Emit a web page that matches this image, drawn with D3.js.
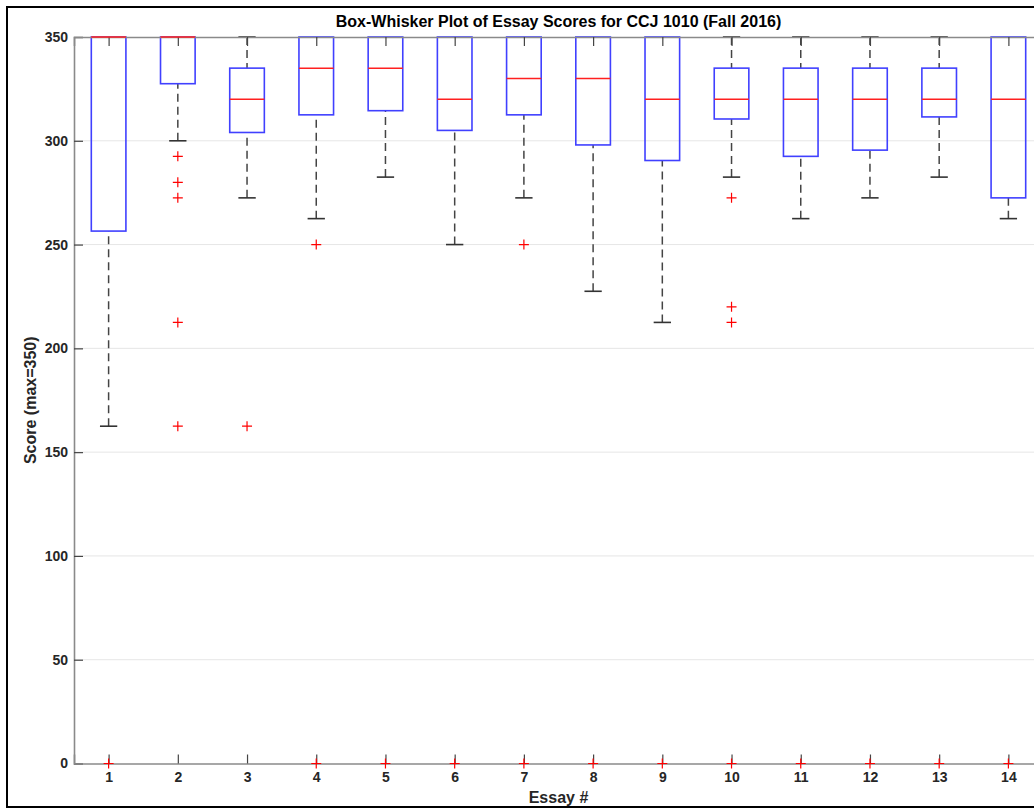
<!DOCTYPE html>
<html>
<head>
<meta charset="utf-8">
<script src="https://cdn.jsdelivr.net/npm/d3@7"></script>
<style>
  body { margin: 0; background: #fff; }
  svg text { font-family: "Liberation Sans", Arial, Helvetica, sans-serif; font-weight: bold; }
</style>
</head>
<body>
<div id="chart"></div>
<script>
// essay numbers and the box statistics
const essays = [1, 2, 3, 4, 5, 6, 7, 8, 9, 10, 11, 12, 13, 14];
const upperWhisker = [350, 350, 350, 350, 350, 350, 350, 350, 350, 350, 350, 350, 350, 350];
const q3 = [350, 350, 335, 350, 350, 350, 350, 350, 350, 335, 335, 335, 335, 350];
const medians = [350, 350, 320, 335, 335, 320, 330, 330, 320, 320, 320, 320, 320, 320];
const q1 = [256.5, 327.5, 304, 312.5, 314.5, 305, 312.5, 298, 290.5, 310.5, 292.5, 295.5, 311.5, 272.5];
const lowerWhisker = [162.5, 300, 272.5, 262.5, 282.5, 250, 272.5, 227.5, 212.5, 282.5, 262.5, 272.5, 282.5, 262.5];
const outliers = [
  [0],
  [292.5, 280, 272.5, 212.5, 162.5],
  [162.5],
  [250, 0],
  [0],
  [0],
  [250, 0],
  [0],
  [0],
  [272.5, 220, 212.5, 0],
  [0],
  [0],
  [0],
  [0]
];
const yTicks = [0, 50, 100, 150, 200, 250, 300, 350];

const W = 1034, H = 809;
const plotLeft = 74, plotRight = 1043, plotTop = 37, plotBottom = 763.5;

const svg = d3.select('#chart').append('svg')
  .attr('width', W)
  .attr('height', H);

// outer frame
svg.append('rect')
  .attr('x', 7).attr('y', 7)
  .attr('width', 1060).attr('height', 800)
  .attr('fill', 'none')
  .attr('stroke', '#000')
  .attr('stroke-width', 2);

const x = d3.scaleLinear().domain([0.5, 14.5]).range([plotLeft, plotRight]);
const y = d3.scaleLinear().domain([0, 350]).range([plotBottom, plotTop]);

// horizontal grid
svg.append('g')
  .selectAll('line')
  .data(yTicks.slice(1, -1))
  .enter().append('line')
  .attr('x1', plotLeft).attr('x2', plotRight)
  .attr('y1', d => y(d)).attr('y2', d => y(d))
  .attr('stroke', '#e6e6e6')
  .attr('stroke-width', 1);

const boxes = essays.map((e, i) => ({
  e: e, lo: lowerWhisker[i], q1: q1[i], med: medians[i], q3: q3[i], hi: upperWhisker[i], out: outliers[i]
}));

// box is 0.5 wide, caps 0.25 wide (in essay units)
const halfBox = x(1.25) - x(1);
const halfCap = x(1.125) - x(1);

const g = svg.append('g');

// whiskers (dashed)
g.selectAll('.wlo')
  .data(boxes)
  .enter().append('line')
  .attr('x1', d => x(d.e)).attr('x2', d => x(d.e))
  .attr('y1', d => y(d.lo)).attr('y2', d => y(d.q1))
  .attr('stroke', '#444')
  .attr('stroke-width', 1.5)
  .attr('stroke-dasharray', '8,5');

g.selectAll('.whi')
  .data(boxes.filter(d => d.hi > d.q3))
  .enter().append('line')
  .attr('x1', d => x(d.e)).attr('x2', d => x(d.e))
  .attr('y1', d => y(d.hi)).attr('y2', d => y(d.q3))
  .attr('stroke', '#444')
  .attr('stroke-width', 1.5)
  .attr('stroke-dasharray', '8,5');

// whisker caps
g.selectAll('.caplo')
  .data(boxes)
  .enter().append('line')
  .attr('x1', d => x(d.e) - halfCap).attr('x2', d => x(d.e) + halfCap)
  .attr('y1', d => y(d.lo)).attr('y2', d => y(d.lo))
  .attr('stroke', '#333')
  .attr('stroke-width', 1.6);

g.selectAll('.caphi')
  .data(boxes.filter(d => d.hi > d.q3))
  .enter().append('line')
  .attr('x1', d => x(d.e) - halfCap).attr('x2', d => x(d.e) + halfCap)
  .attr('y1', d => y(d.hi)).attr('y2', d => y(d.hi))
  .attr('stroke', '#333')
  .attr('stroke-width', 1.6);

// boxes
g.selectAll('.box')
  .data(boxes)
  .enter().append('rect')
  .attr('x', d => x(d.e) - halfBox)
  .attr('width', halfBox * 2)
  .attr('y', d => y(d.q3))
  .attr('height', d => y(d.q1) - y(d.q3))
  .attr('fill', 'none')
  .attr('stroke', '#4040ff')
  .attr('stroke-width', 1.6);

// axes, ticks pointing inward on all four sides
const yAxisL = svg.append('g')
  .attr('transform', `translate(${plotLeft},0)`)
  .call(d3.axisLeft(y).tickValues(yTicks).tickSize(-9).tickPadding(6));
const yAxisR = svg.append('g')
  .attr('transform', `translate(${plotRight},0)`)
  .call(d3.axisRight(y).tickValues(yTicks).tickSize(-9).tickFormat(''));
const xAxisB = svg.append('g')
  .attr('transform', `translate(0,${plotBottom})`)
  .call(d3.axisBottom(x).tickValues(essays).tickSize(-9).tickPadding(9));
const xAxisT = svg.append('g')
  .attr('transform', `translate(0,${plotTop})`)
  .call(d3.axisTop(x).tickValues(essays).tickSize(-9).tickFormat(''));

[yAxisL, yAxisR, xAxisB, xAxisT].forEach(a => {
  a.select('.domain').attr('stroke', '#8a8a8a').attr('stroke-width', 1.6);
  a.selectAll('.tick line').attr('stroke', '#444').attr('stroke-width', 1.2);
  a.selectAll('.tick text')
    .attr('fill', '#262626')
    .style('font-size', '14px')
    .style('font-weight', 'bold');
});

// medians (drawn over the top axis line)
svg.append('g').selectAll('line')
  .data(boxes)
  .enter().append('line')
  .attr('x1', d => x(d.e) - halfBox).attr('x2', d => x(d.e) + halfBox)
  .attr('y1', d => y(d.med)).attr('y2', d => y(d.med))
  .attr('stroke', '#ff2020')
  .attr('stroke-width', 1.5);

// outliers as red plus signs
const pts = [];
boxes.forEach(d => d.out.forEach(v => pts.push({ e: d.e, v: v })));
svg.append('g').selectAll('path')
  .data(pts)
  .enter().append('path')
  .attr('d', d => {
    const cx = x(d.e), cy = y(d.v), s = 5;
    return `M${cx - s},${cy}H${cx + s}M${cx},${cy - s}V${cy + s}`;
  })
  .attr('stroke', '#ff0000')
  .attr('stroke-width', 1.2)
  .attr('fill', 'none');

// title and labels
const cxPlot = (plotLeft + plotRight) / 2;
svg.append('text')
  .attr('x', cxPlot).attr('y', 27)
  .attr('text-anchor', 'middle')
  .style('font-size', '16px')
  .attr('fill', '#000')
  .text('Box-Whisker Plot of Essay Scores for CCJ 1010 (Fall 2016)');

svg.append('text')
  .attr('x', cxPlot).attr('y', 803)
  .attr('text-anchor', 'middle')
  .style('font-size', '16px')
  .attr('fill', '#262626')
  .text('Essay #');

svg.append('text')
  .attr('transform', `translate(36,${(plotTop + plotBottom) / 2}) rotate(-90)`)
  .attr('text-anchor', 'middle')
  .style('font-size', '16px')
  .attr('fill', '#262626')
  .text('Score (max=350)');
</script>
</body>
</html>
